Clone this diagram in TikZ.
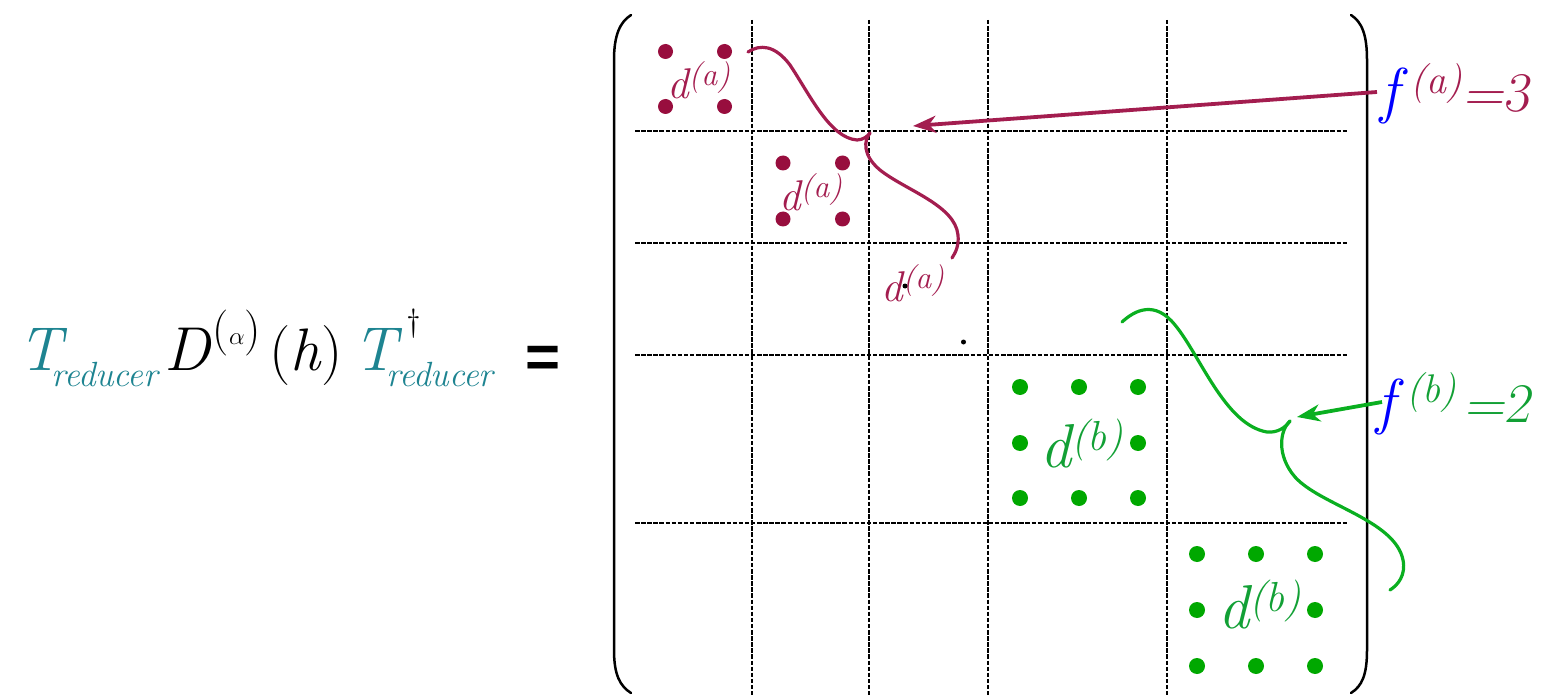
\documentclass[tikz,border=0pt]{standalone}
\usepackage{fontspec}
\newfontfamily\eqfont{Liberation Sans}
\usetikzlibrary{arrows.meta}
\definecolor{dotA}{HTML}{980E3E}
\definecolor{colA}{HTML}{A31D4F}
\definecolor{dotB}{HTML}{00A800}
\definecolor{colB}{HTML}{12A035}
\definecolor{curB}{HTML}{0AAF20}
\definecolor{tealT}{HTML}{1E8491}
\newcommand\fs[1]{\fontsize{#1}{#1}\selectfont}
\begin{document}
\begin{tikzpicture}[x=1pt,y=-1pt,
  txt/.style={inner sep=0pt,outer sep=0pt,anchor=base west},
  gridline/.style={black,line width=2.6pt,dash pattern=on 4.5pt off 1.6pt},
  bracket/.style={black,line width=2.5pt,line cap=round},
  ddotA/.style={circle,fill=dotA,draw=none,inner sep=0pt,minimum size=15pt},
  ddotB/.style={circle,fill=dotB,draw=none,inner sep=0pt,minimum size=16pt},
  bdot/.style={circle,fill=black,draw=none,inner sep=0pt,minimum size=5pt},
  braceA/.style={colA,line width=3.2pt,line cap=round},
  braceB/.style={curB,line width=3.2pt,line cap=round},
  arrA/.style={colA,line width=3.8pt,-{Stealth[length=23pt,width=17pt,inset=7pt]}},
  arrB/.style={curB,line width=3.8pt,-{Stealth[length=23pt,width=17pt,inset=7pt]}},
  labA/.style={txt,text=colA,font=\itshape\fs{43}},
  labB/.style={txt,text=colB,font=\itshape\fs{62}}
]
\useasboundingbox (0,0) rectangle (1542,695);

% ---- left formula ----
\node[txt,text=tealT,font=\itshape\fs{62}] (T1) at (19,370)
  {T\kern-11pt\raisebox{-16pt}{\fs{35}reducer}};
\node[txt,font=\itshape\fs{62}] (D) at (164,370)
  {D\kern3pt\raisebox{26pt}{\upshape\fs{46}(\(\alpha\))}};
\node[txt,font=\fs{60}] (h) at (269,370) {(\textit{h})};
\node[txt,text=tealT,font=\itshape\fs{62}] (T2) at (353,370)
  {T\rlap{\kern10pt\raisebox{39pt}{\color{black}\upshape\fs{32}†}}\kern-10pt\raisebox{-16pt}{\fs{35}reducer}};
\node[inner sep=0pt,font=\eqfont\bfseries\fs{60}] (eq) at (543,362) {=};

% ---- matrix brackets ----
\draw[bracket] (631,15) .. controls (620,22) and (614,35) .. (614,60) -- (614,650) .. controls (614,675) and (620,686) .. (631,693);
\draw[bracket] (1351,15) .. controls (1362,22) and (1367,35) .. (1367,60) -- (1367,650) .. controls (1367,675) and (1362,686) .. (1351,693);

% ---- grid ----
\foreach \x in {752,869,988,1167} \draw[gridline] (\x,20) -- (\x,695);
\foreach \y in {131,243,355,523} \draw[gridline] (635,\y) -- (1347,\y);

% ---- block a dots ----
\node[ddotA] (a1) at (665.5,51.5) {};
\node[ddotA] (a2) at (724.5,51.5) {};
\node[ddotA] (a3) at (665.5,106.5) {};
\node[ddotA] (a4) at (724.5,106.5) {};
\node[ddotA] (a5) at (783,163) {};
\node[ddotA] (a6) at (842.5,163) {};
\node[ddotA] (a7) at (783,219) {};
\node[ddotA] (a8) at (842.5,219) {};
\node[labA] (la1) at (667,99) {d\raisebox{13pt}{\fs{32}(a)}};
\node[labA] (la2) at (779,211) {d\raisebox{13pt}{\fs{32}(a)}};
\node[labA] (la3) at (881,301) {d\raisebox{13pt}{\fs{32}(a)}};

% ---- diagonal dots ----
\node[bdot] (e1) at (905,286) {};
\node[bdot] (e2) at (963.5,342) {};

% ---- block b dots ----
\foreach \x/\n in {1020/1,1079/2,1138/3} {
  \node[ddotB] (b1\n) at (\x,387) {};
  \node[ddotB] (b3\n) at (\x,498) {};
}
\node[ddotB] (b21) at (1020,443) {};
\node[ddotB] (b23) at (1138,443) {};
\foreach \x/\n in {1197/1,1256/2,1315/3} {
  \node[ddotB] (c1\n) at (\x,554) {};
  \node[ddotB] (c3\n) at (\x,666) {};
}
\node[ddotB] (c21) at (1197,610) {};
\node[ddotB] (c23) at (1315,610) {};
\node[labB] (lb1) at (1040,467) {d\raisebox{17pt}{\fs{42}(b)}};
\node[labB] (lb2) at (1218,628) {d\raisebox{17pt}{\fs{42}(b)}};

% ---- braces ----
\draw[braceA] (748,52) .. controls (760,44) and (775,45) .. (790,65)
  .. controls (810,95) and (830,138) .. (857,140)
  .. controls (863,140) and (868,136) .. (870,133);
\draw[braceA] (870,133) .. controls (864,140) and (862,155) .. (880,170)
  .. controls (905,190) and (955,205) .. (958,235)
  .. controls (959,245) and (956,252) .. (952,258);
\draw[braceB] (1122,322) .. controls (1135,310) and (1155,300) .. (1175,325)
  .. controls (1200,355) and (1225,425) .. (1267,432)
  .. controls (1277,433) and (1285,428) .. (1290,421);
\draw[braceB] (1290,421) .. controls (1280,430) and (1276,455) .. (1295,477)
  .. controls (1320,505) and (1395,520) .. (1403,560)
  .. controls (1406,575) and (1398,585) .. (1390,590);

% ---- f labels and arrows ----
\node[txt,font=\itshape\fs{62}] (fa) at (1380,112)
  {\textcolor{blue}{f}\kern12pt\textcolor{colA}{\raisebox{18pt}{\fs{40}(a)}\kern1pt\slshape\fs{56}=3}};
\node[txt,font=\itshape\fs{62}] (fb) at (1376,422)
  {\textcolor{blue}{f}\kern12pt\textcolor{colB}{\raisebox{20pt}{\fs{40}(b)}\kern8pt\slshape\fs{56}=2}};
\coordinate (aS) at (1377,92);
\coordinate (aE) at (913,126);
\draw[arrA] (aS) -- (aE);
\coordinate (bS) at (1382,402);
\coordinate (bE) at (1297,417);
\draw[arrB] (bS) -- (bE);
\end{tikzpicture}
\end{document}
